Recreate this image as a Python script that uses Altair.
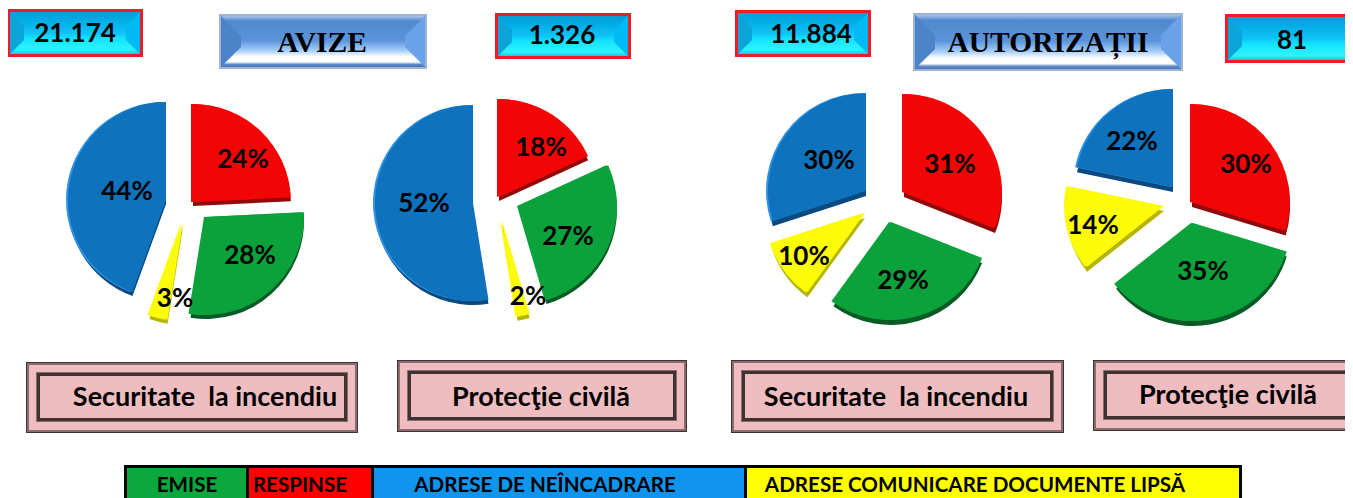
import altair as alt
import pandas as pd

# ---- values ----
series = ["RESPINSE", "EMISE", "COMUNICARE", "NEINCADRARE"]
pie_avize_si = [24, 28, 3, 44]
pie_avize_pc = [18, 27, 2, 52]
pie_autor_si = [31, 29, 10, 30]
pie_autor_pc = [30, 35, 14, 22]
totals = ["21.174", "1.326", "11.884", "81"]
headings = ["AVIZE", "AUTORIZAȚII"]
domains = ["Securitate \u00a0la incendiu", "Protecţie civilă", "Securitate \u00a0la incendiu", "Protecţie civilă"]
legend_labels = ["EMISE", "RESPINSE", "ADRESE DE NEÎNCADRARE", "ADRESE COMUNICARE DOCUMENTE LIPSĂ"]

# ---- layout (page pixels) and style ----
M = 8
RADIUS = 98
fill = {"RESPINSE": "#f40505", "EMISE": "#0ba23c", "COMUNICARE": "#fbfb0a", "NEINCADRARE": "#0e72bc"}
dark = {"RESPINSE": "#8f0a0a", "EMISE": "#0a5a26", "COMUNICARE": "#b5b505", "NEINCADRARE": "#0a4a80"}
rim = {"RESPINSE": "#f40505", "EMISE": "#0ba23c", "COMUNICARE": "#fbfb0a", "NEINCADRARE": "#2f93e6"}
pies = [
    (pie_avize_si, [(193, 202), (206, 217), (183, 223), (166, 200)],
     [(243, 160), (250, 256), (175, 299), (127, 192)], 4),
    (pie_avize_pc, [(499, 197), (519, 206), (502, 220), (473, 203)],
     [(541, 148), (568, 237), (528, 297), (424, 204)], 4),
    (pie_autor_si, [(904, 192), (891, 222), (865, 213), (866, 191)],
     [(950, 165), (903, 281), (804, 257), (829, 161)], 5),
    (pie_autor_pc, [(1192, 202), (1193, 223), (1164, 206), (1173, 187)],
     [(1246, 165), (1203, 272), (1093, 226), (1132, 142)], 5),
]

slices, pct = [], []
for values, apexes, labels, depth in pies:
    total, run = sum(values), 0
    for name, v, (ax, ay), (lx, ly) in zip(series, values, apexes, labels):
        slices.append(dict(series=name, start=run / total, end=(run + v) / total,
                           x=ax - M, y=ay - M, depth_y=ay - M + depth, rim_x=ax - M - 2,
                           c_fill=fill[name], c_dark=dark[name], c_rim=rim[name]))
        pct.append(dict(text=f"{v}%", x=lx - M, y=ly - M))
        run += v
slices = pd.DataFrame(slices)

X = lambda f="x": alt.X(f"{f}:Q", scale=None, axis=None)
Y = lambda f="y": alt.Y(f"{f}:Q", scale=None, axis=None)
TH = alt.Theta("start:Q", scale=alt.Scale(domain=[0, 1], range=[0, 6.283185]))


def arc_layer(xf, yf, cf):
    return alt.Chart(slices).mark_arc(radius=RADIUS).encode(
        x=X(xf), y=Y(yf), theta=TH, theta2="end:Q", color=alt.Color(f"{cf}:N", scale=None))


arcs = [arc_layer("x", "depth_y", "c_dark"), arc_layer("rim_x", "y", "c_rim"), arc_layer("x", "y", "c_fill")]


def rect(rows):
    return [dict(x=a - M, x2=b - M, y=c - M, y2=d - M, fill=f) for a, b, c, d, f in rows]


cyan_boxes = [(7, 143, 9, 57), (495, 631, 13, 59), (735, 871, 10, 57), (1225, 1362, 14, 63)]
blue_boxes = [(219, 427, 14, 69), (913, 1183, 13, 71)]
pink_boxes = [(26, 358, 362, 433), (397, 687, 360, 432), (731, 1064, 360, 433), (1093, 1362, 360, 431)]

flat_rows = []
for a, b, c, d in cyan_boxes:
    flat_rows.append((a, b, c, d, "#ee1c25"))
for a, b, c, d in blue_boxes:
    flat_rows.append((a, b, c, d, "#9db4d6"))
for a, b, c, d in pink_boxes:
    flat_rows += [(a, b, c, d, "#3d3333"), (a + 1, b - 1, c + 1, d - 1, "#8a6c6c"),
                  (a + 3, b - 3, c + 3, d - 3, "#efbdbf"),
                  (a + 10, b - 10, c + 10, d - 11, "#8a6c6c"),
                  (a + 11, b - 11, c + 11, d - 12, "#3d3333"),
                  (a + 14, b - 14, c + 14, d - 15, "#efbdbf")]
flat_rows += [(124, 1242, 465, 505, "#000000"),
              (127, 246, 468, 505, "#0aa83d"), (249, 371, 468, 505, "#ff0000"),
              (374, 744, 468, 505, "#1095ee"), (747, 1239, 468, 505, "#ffff00")]
flat = alt.Chart(pd.DataFrame(rect(flat_rows))).mark_rect().encode(
    x=X(), x2="x2:Q", y=Y(), y2="y2:Q", color=alt.Color("fill:N", scale=None))


def gradient(stops):
    return alt.LinearGradient(gradient="linear", x1=0, x2=0, y1=0, y2=1,
                              stops=[alt.GradientStop(color=c, offset=o) for o, c in stops])


def bodies(boxes, inset, stops):
    rows = rect([(a + inset, b - inset, c + inset, d - inset, "") for a, b, c, d in boxes])
    return alt.Chart(pd.DataFrame(rows)).mark_rect(color=gradient(stops)).encode(x=X(), x2="x2:Q", y=Y(), y2="y2:Q")


def wedges(boxes, frame, bevel, left, right):
    rows = []
    for i, (a, b, c, d) in enumerate(boxes):
        a, b, c, d = a + frame, b - frame, c + frame, d - frame
        h = (d - c) / 2
        w = min(bevel, h)
        rows += [dict(k=f"l{i}", tone=left, x=a - M, y=c - M, y2=d - M),
                 dict(k=f"l{i}", tone=left, x=a + w - M, y=c + w - M, y2=d - w - M),
                 dict(k=f"r{i}", tone=right, x=b - w - M, y=c + w - M, y2=d - w - M),
                 dict(k=f"r{i}", tone=right, x=b - M, y=c - M, y2=d - M)]
    return alt.Chart(pd.DataFrame(rows)).mark_area(orient="vertical", interpolate="linear").encode(
        x=X(), y=Y(), y2="y2:Q", detail="k:N", color=alt.Color("tone:N", scale=None))


cyan_stops = [(0, "#0a9ed4"), (0.16, "#00a9e2"), (0.5, "#0fc3f7"), (0.62, "#12e2ff"), (0.9, "#2ef3ff"), (1, "#18c8e0")]
blue_stops = [(0, "#a9c3ea"), (0.1, "#5288cc"), (0.48, "#5b94da"), (0.68, "#a6cff8"), (0.8, "#ffffff"),
              (0.9, "#ffffff"), (0.95, "#5c8ac4"), (1, "#4a74ae")]
cyan_body = bodies(cyan_boxes, 3, cyan_stops)
blue_body = bodies(blue_boxes, 2, blue_stops)
cyan_w = wedges(cyan_boxes, 3, 14, "#0da4da", "#00baf3")
blue_w = wedges(blue_boxes, 2, 20, "#4d84c9", "#6aa1e8")


def texts(rows, font, size, weight="bold"):
    return alt.Chart(pd.DataFrame(rows)).mark_text(font=font, fontSize=size, fontWeight=weight, color="#000000",
                                                   align="center", baseline="middle").encode(
        x=X(), y=Y(), text="text:N")


def at(labels, spots):
    return [dict(text=t, x=x - M, y=y - M) for t, (x, y) in zip(labels, spots)]


LATO = "Lato"
layers = [
    flat, cyan_body, cyan_w, blue_body, blue_w, *arcs,
    texts(pct, LATO, 26),
    texts(at(totals, [(75, 34), (562, 36), (811, 35), (1292, 41)]), LATO, 26),
    texts(at(headings, [(322, 43), (1048, 43)]), "Liberation Serif", 29.5),
    texts(at(domains, [(205, 398), (541, 398), (896, 398), (1228, 396)]), LATO, 27),
    texts(at(legend_labels, [(187, 486), (300, 486), (545, 486), (975, 486)]), LATO, 20.6),
]

chart = alt.layer(*layers).properties(
    width=1337, height=490, padding=0, autosize=alt.AutoSizeParams(type="none")
).configure_view(stroke=None)

chart.save("out.html", embed_options={"renderer": "svg", "actions": False})
